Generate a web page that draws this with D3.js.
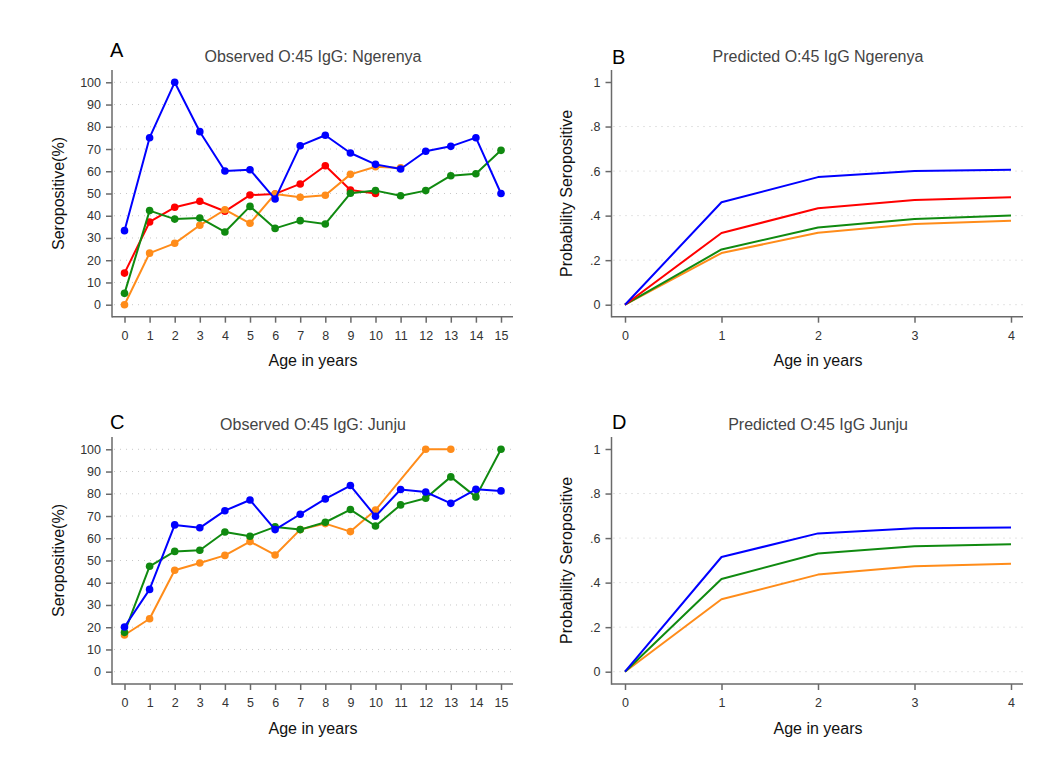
<!DOCTYPE html>
<html>
<head>
<meta charset="utf-8">
<script src="https://cdn.jsdelivr.net/npm/d3@7"></script>
<style>
  body { margin: 0; background: #fff; }
  svg { display: block; font-family: "Liberation Sans", Arial, sans-serif; }
</style>
</head>
<body>
<svg id="chart" width="1051" height="772"></svg>
<script>
// observed ages (x categories)
const ages = [0, 1, 2, 3, 4, 5, 6, 7, 8, 9, 10, 11, 12, 13, 14, 15];
const predAges = [0, 1, 2, 3, 4];

const pctTicks = [0, 10, 20, 30, 40, 50, 60, 70, 80, 90, 100];
const probTicks = [0, 0.2, 0.4, 0.6, 0.8, 1];
const probTickLabels = ["0", ".2", ".4", ".6", ".8", "1"];

// A: observed Ngerenya (% seropositive), null = no data
const ngBlue   = [33.3, 75.1, 100, 77.8, 60.1, 60.7, 47.5, 71.5, 76.2, 68.2, 63.1, 61.0, 69.0, 71.2, 75.1, 50.0];
const ngRed    = [14.2, 37.2, 43.8, 46.5, 42.0, 49.3, 49.8, 54.3, 62.5, 51.6, 50.0, null, null, null, null, null];
const ngOrange = [0, 23.2, 27.6, 35.7, 42.7, 36.6, 49.8, 48.3, 49.2, 58.6, 62.0, 61.5, null, null, null, null];
const ngGreen  = [5.1, 42.3, 38.5, 39.0, 32.7, 44.2, 34.3, 37.8, 36.3, 50.1, 51.3, 49.0, 51.3, 58.0, 58.9, 69.4];

// C: observed Junju
const jjBlue   = [20.1, 37.0, 66.0, 64.7, 72.4, 77.2, 63.9, 70.8, 77.7, 83.7, 69.9, 81.9, 80.8, 75.7, 82.0, 81.3];
const jjOrange = [16.5, 23.8, 45.6, 48.9, 52.3, 58.5, 52.5, 63.9, 66.6, 63.0, 72.7, null, 100, 100, null, null];
const jjGreen  = [17.7, 47.4, 54.1, 54.6, 62.8, 60.9, 65.1, 63.9, 67.2, 72.9, 65.5, 75.0, 78.0, 87.6, 78.6, 100];

// B: predicted Ngerenya (probability)
const pngBlue   = [0, 0.460, 0.573, 0.600, 0.606];
const pngRed    = [0, 0.322, 0.433, 0.470, 0.482];
const pngGreen  = [0, 0.248, 0.347, 0.385, 0.401];
const pngOrange = [0, 0.232, 0.323, 0.362, 0.377];

// D: predicted Junju
const pjjBlue   = [0, 0.515, 0.621, 0.644, 0.648];
const pjjGreen  = [0, 0.416, 0.531, 0.563, 0.572];
const pjjOrange = [0, 0.325, 0.436, 0.473, 0.485];

const colors = { blue: "#0000ff", red: "#ff0000", green: "#108a10", orange: "#ff8c1a" };
const axisColor = "#6a6a6a";

const svg = d3.select("#chart");

const drawPanel = (p) => {
    const g = svg.append("g");

    const x = d3.scaleLinear().domain(p.xDomain).range(p.xRange);
    const y = d3.scaleLinear().domain(p.yDomain).range(p.yRange);

    // dotted grid lines
    g.selectAll(".grid")
        .data(p.gridTicks)
        .join("line")
        .attr("x1", p.axisX + 2)
        .attr("x2", p.axisRight)
        .attr("y1", d => y(d))
        .attr("y2", d => y(d))
        .attr("stroke", "#c8c8c8")
        .attr("stroke-width", 1)
        .attr("stroke-dasharray", "1,5");

    // y axis
    const yAxis = g.append("g")
        .attr("transform", `translate(${p.axisX},0)`)
        .call(d3.axisLeft(y).tickValues(p.yTicks).tickSize(6).tickPadding(5)
            .tickFormat((d, i) => p.yTickLabels ? p.yTickLabels[i] : d));
    yAxis.select(".domain").remove();

    // x axis
    const xAxis = g.append("g")
        .attr("transform", `translate(0,${p.axisY})`)
        .call(d3.axisBottom(x).tickValues(p.xTicks).tickSize(6).tickPadding(8).tickFormat(d3.format("d")));
    xAxis.select(".domain").remove();

    g.selectAll(".tick line").attr("stroke", axisColor).attr("stroke-width", 1.5);
    g.selectAll(".tick text").attr("fill", "#333").attr("font-size", 12.5)
        .attr("font-family", "'Liberation Sans', Arial, sans-serif");

    g.append("line")
        .attr("x1", p.axisX).attr("x2", p.axisX)
        .attr("y1", p.axisTop).attr("y2", p.axisY + 0.75)
        .attr("stroke", axisColor).attr("stroke-width", 1.5);
    g.append("line")
        .attr("x1", p.axisX).attr("x2", p.axisRight)
        .attr("y1", p.axisY).attr("y2", p.axisY)
        .attr("stroke", axisColor).attr("stroke-width", 1.5);

    // series
    const line = d3.line()
        .x(d => x(d[0]))
        .y(d => y(d[1]));

    p.series.forEach(s => {
        // missing ages are skipped, the line joins the nearest observed ages
        const kept = p.xValues.map((a, i) => [a, s.values[i]]).filter(d => d[1] !== null);
        g.append("path")
            .datum(kept)
            .attr("fill", "none")
            .attr("stroke", s.color)
            .attr("stroke-width", 2)
            .attr("stroke-linejoin", "round")
            .attr("d", line);
        if (p.markers) {
            g.selectAll(null)
                .data(kept)
                .join("circle")
                .attr("cx", d => x(d[0]))
                .attr("cy", d => y(d[1]))
                .attr("r", 3.8)
                .attr("fill", s.color);
        }
    });

    // texts
    g.append("text")
        .attr("x", p.letterX).attr("y", p.letterY)
        .attr("font-size", 20).attr("fill", "#000")
        .text(p.letter);
    g.append("text")
        .attr("x", p.titleX).attr("y", p.titleY)
        .attr("text-anchor", "middle")
        .attr("font-size", 16).attr("fill", "#444")
        .text(p.title);
    g.append("text")
        .attr("x", p.titleX).attr("y", p.xLabelY)
        .attr("text-anchor", "middle")
        .attr("font-size", 16).attr("fill", "#111")
        .text("Age in years");
    g.append("text")
        .attr("transform", `translate(${p.yLabelX},${(p.yRange[0] + p.yRange[1]) / 2}) rotate(-90)`)
        .attr("text-anchor", "middle")
        .attr("font-size", 16).attr("fill", "#111")
        .text(p.yLabel);
};

const obsCommon = {
    xDomain: [0, 15], xRange: [124.5, 501], xTicks: ages, xValues: ages,
    yDomain: [0, 100], yTicks: pctTicks, gridTicks: pctTicks,
    axisX: 112, axisRight: 513, markers: true,
    yLabel: "Seropositive(%)", yLabelX: 64, titleX: 313, letterX: 110
};
const predCommon = {
    xDomain: [0, 4], xRange: [625, 1011], xTicks: predAges, xValues: predAges,
    yDomain: [0, 1], yTicks: probTicks, yTickLabels: probTickLabels, gridTicks: probTicks.slice(0, 5),
    axisX: 611.5, axisRight: 1023, markers: false,
    yLabel: "Probability Seropositive", yLabelX: 572, titleX: 818, letterX: 612
};

drawPanel(Object.assign({}, obsCommon, {
    yRange: [304.7, 82.3], axisY: 316.7, axisTop: 70,
    letter: "A", letterY: 57, titleY: 62, xLabelY: 366,
    title: "Observed O:45 IgG: Ngerenya",
    series: [
        { values: ngRed, color: colors.red },
        { values: ngOrange, color: colors.orange },
        { values: ngGreen, color: colors.green },
        { values: ngBlue, color: colors.blue }
    ]
}));

drawPanel(Object.assign({}, predCommon, {
    yRange: [304.7, 82], axisY: 316.7, axisTop: 70,
    letter: "B", letterY: 64, titleY: 62, xLabelY: 366,
    title: "Predicted O:45 IgG Ngerenya",
    series: [
        { values: pngOrange, color: colors.orange },
        { values: pngGreen, color: colors.green },
        { values: pngRed, color: colors.red },
        { values: pngBlue, color: colors.blue }
    ]
}));

drawPanel(Object.assign({}, obsCommon, {
    yRange: [671.7, 449.3], axisY: 684, axisTop: 437,
    letter: "C", letterY: 429, titleY: 430, xLabelY: 734,
    title: "Observed O:45 IgG: Junju",
    series: [
        { values: jjOrange, color: colors.orange },
        { values: jjGreen, color: colors.green },
        { values: jjBlue, color: colors.blue }
    ]
}));

drawPanel(Object.assign({}, predCommon, {
    yRange: [671.7, 449], axisY: 684, axisTop: 437,
    letter: "D", letterY: 429, titleY: 430, xLabelY: 734,
    title: "Predicted O:45 IgG Junju",
    series: [
        { values: pjjOrange, color: colors.orange },
        { values: pjjGreen, color: colors.green },
        { values: pjjBlue, color: colors.blue }
    ]
}));
</script>
</body>
</html>
